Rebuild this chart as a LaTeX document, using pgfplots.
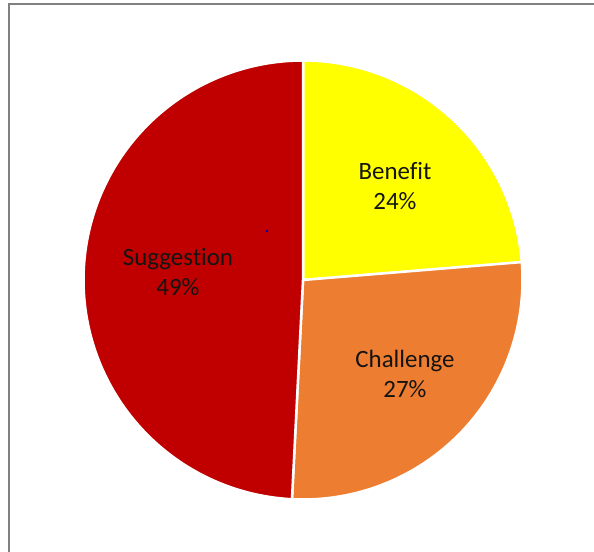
\documentclass[border=0pt]{standalone}
\usepackage{fontspec}
\setmainfont{Carlito}[Ligatures=NoCommon]
\usepackage{pgfplots}
\pgfplotsset{compat=1.18}
\definecolor{cRed}{HTML}{C00000}
\definecolor{cYel}{HTML}{FFFF00}
\definecolor{cOra}{HTML}{ED7D31}
\definecolor{cFrame}{HTML}{808080}
\definecolor{cTxt}{HTML}{141414}
% slice values (percent)
\def\vB{23.7}
\def\vC{27.1}
\def\vS{49.2}
\def\cx{303}
\def\cy{272}
\def\rr{219.5}
\pgfmathsetmacro\aA{90}
\pgfmathsetmacro\aB{90-3.6*\vB}
\pgfmathsetmacro\aC{\aB-3.6*\vC}
\pgfmathsetmacro\aD{\aC-3.6*\vS}
\begin{document}
\begin{tikzpicture}
\path[use as bounding box] (0,0) rectangle (594bp,552bp);
\begin{axis}[at={(0,0)}, anchor=south west, width=594bp, height=552bp,
  scale only axis, xmin=0, xmax=594, ymin=0, ymax=552, hide axis, clip=true]
\draw[cFrame, line width=2bp] (axis cs:8.5,0) -- (axis cs:8.5,547.5) -- (axis cs:594,547.5);
\addplot[draw=white, line width=2.5bp, fill=cYel, domain=\aB:\aA, samples=120, variable=\t]
  ({\cx+\rr*cos(\t)},{\cy+\rr*sin(\t)}) -- (axis cs:\cx,\cy) -- cycle;
\addplot[draw=white, line width=2.5bp, fill=cOra, domain=\aC:\aB, samples=120, variable=\t]
  ({\cx+\rr*cos(\t)},{\cy+\rr*sin(\t)}) -- (axis cs:\cx,\cy) -- cycle;
\addplot[draw=white, line width=2.5bp, fill=cRed, domain=\aD:\aC, samples=160, variable=\t]
  ({\cx+\rr*cos(\t)},{\cy+\rr*sin(\t)}) -- (axis cs:\cx,\cy) -- cycle;
\addplot[only marks, mark=*, mark size=1.2bp, color=blue!70!black] coordinates {(267,321)};
\node[align=center, text=cTxt, font=\fontsize{25}{31}\selectfont] at (axis cs:395,366) {Benefit\\24\%};
\node[align=center, text=cTxt, font=\fontsize{25}{31}\selectfont] at (axis cs:405,178) {Challenge\\27\%};
\node[align=center, text=cTxt, font=\fontsize{25}{31}\selectfont] at (axis cs:178,280) {Suggestion\\49\%};
\end{axis}
\end{tikzpicture}
\end{document}
